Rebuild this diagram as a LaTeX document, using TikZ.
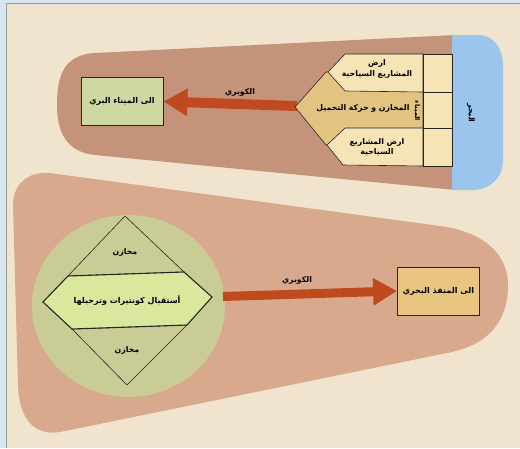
\documentclass[tikz,border=0pt]{standalone}
\usepackage{fontspec}
\TeXXeTstate=1
\newfontfamily\arabicfont[Script=Arabic]{DejaVu Sans}
\usetikzlibrary{arrows.meta}
\newcommand\ar[1]{{\arabicfont\bfseries\beginR #1\endR}}
\definecolor{outerblue}{HTML}{D7E6EF}
\definecolor{panel}{HTML}{F1E4CF}
\definecolor{browntop}{HTML}{C4937A}
\definecolor{brownbot}{HTML}{D9A98E}
\definecolor{sea}{HTML}{9BC5EC}
\definecolor{cream}{HTML}{F6E3B6}
\definecolor{tan}{HTML}{E3C381}
\definecolor{boxgreen}{HTML}{D0D8A2}
\definecolor{boxgold}{HTML}{E9C67F}
\definecolor{circgreen}{HTML}{C9CC95}
\definecolor{bandgreen}{HTML}{D9E89C}
\definecolor{arrowred}{HTML}{C04A1F}
\tikzset{
  piece/.style={draw=black!85, line width=0.6pt},
  labelbox/.style={draw=black!85, line width=0.8pt, minimum width=82pt, minimum height=48pt, inner sep=1pt},
  txt/.style={font=\fontsize{7.8}{9.5}\selectfont, align=center, inner sep=0pt},
  bigarrow/.style={draw=arrowred, line width=10pt, -{Triangle[length=24pt,width=26pt]}},
}
\begin{document}
\begin{tikzpicture}[x=1pt,y=-1pt]
\useasboundingbox (0,0) rectangle (520,448);
\fill[outerblue] (0,0) rectangle (520,448);
\fill[panel] (6,3) rectangle (520,448);
\draw[gray!80, line width=0.8pt] (6,448) -- (6,3) -- (520,3);

% top brown zone
\fill[browntop] (95,155) .. controls (65,152) and (57,130) .. (57,105)
  .. controls (57,75) and (64,55) .. (95,53) -- (455,35) -- (455,190) -- cycle;
% sea
\fill[sea] (452,35) -- (478,35) .. controls (495,35) and (503,50) .. (503,66)
  -- (503,160) .. controls (503,178) and (490,190) .. (472,190) -- (452,190) -- cycle;
\node[rotate=-90, txt, font=\fontsize{7.8}{9}\selectfont] (seatxt) at (471,113) {\ar{البحر}};

% bottom brown zone
\fill[brownbot] (50,173) -- (440,226) .. controls (485,232) and (508,255) .. (508,285)
  .. controls (508,320) and (490,345) .. (447,353) -- (60,432)
  .. controls (35,436) and (19,420) .. (18,385) -- (13,205)
  .. controls (13,185) and (27,171) .. (50,173) -- cycle;

% top arrow
\coordinate (tipA) at (297,106);
\node[labelbox, fill=boxgreen] (boxA) at (122,101.5) {};
\node[txt, font=\fontsize{8}{10}\selectfont] (boxAtxt) at (boxA) {\ar{الى الميناء البري}};
\draw[bigarrow] (tipA) -- (boxA.east);
\node[txt] (lblA) at (240,92) {\ar{الكوبري}};

% top pieces
\fill[tan, piece] (295,107) -- (326,72) -- (423,72) -- (423,145) -- (326,145) -- cycle;
\fill[cream, piece] (345,54) -- (423,54) -- (423,92) -- (345,91) -- (328,72) -- cycle;
\fill[cream, piece] (345,128) -- (423,128) -- (423,166) -- (343,165) -- (327,145) -- cycle;
\fill[cream, piece] (423,54) rectangle (452,92);
\fill[cream, piece] (423,92) rectangle (452,128);
\fill[cream, piece] (423,128) rectangle (452,166);
\node[txt] (p1) at (377,69) {\ar{ارض}\\[1pt]\ar{المشاريع السياحية}};
\node[txt] (p2) at (363,108) {\ar{المخازن و حركة التحميل}};
\node[txt] (p3) at (377,147) {\ar{ارض المشاريع}\\[1pt]\ar{السياحية}};
\node[txt, rotate=-90, font=\fontsize{6.5}{8}\selectfont] (port) at (417,111) {\ar{الميناء}};

% circle and diamond
\fill[circgreen] (128.5,306) ellipse [x radius=96.5, y radius=91];
\coordinate (dT) at (125,216);
\coordinate (dL) at (43,302);
\coordinate (dR) at (212,297);
\coordinate (dB) at (127,385);
\coordinate (uL) at (68,276);
\coordinate (uR) at (184,272);
\coordinate (lL) at (72,329);
\coordinate (lR) at (187,325);
\draw[piece] (dT) -- (uR) -- (uL) -- cycle;
\draw[piece] (lL) -- (lR) -- (dB) -- cycle;
\filldraw[fill=bandgreen, draw=black!85, line width=1.1pt] (dL) -- (uL) -- (uR) -- (dR) -- (lR) -- (lL) -- cycle;
\node[txt] (m1) at (125,252) {\ar{مخازن}};
\node[txt, font=\fontsize{8}{10}\selectfont] (mid) at (127,300) {\ar{أستقبال كونتيرات وترحيلها}};
\node[txt] (m2) at (127,350) {\ar{مخازن}};

% bottom arrow
\coordinate (startB) at (223,296.5);
\node[labelbox, fill=boxgold] (boxB) at (438.5,291) {};
\node[txt, font=\fontsize{8}{10}\selectfont] (boxBtxt) at (boxB) {\ar{الى المنفذ البحري}};
\draw[bigarrow, line width=9pt] (startB) -- (boxB.west);
\node[txt] (lblB) at (297,280) {\ar{الكوبري}};
\end{tikzpicture}
\end{document}
